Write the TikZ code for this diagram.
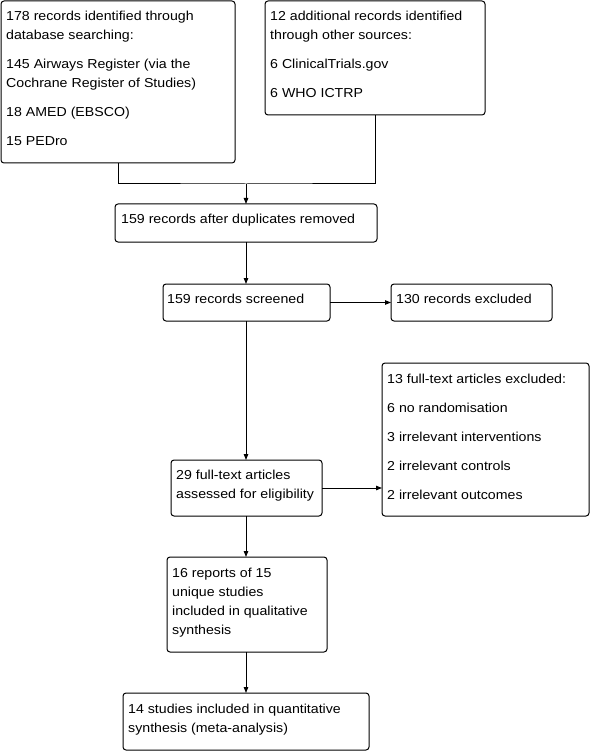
\documentclass[tikz,border=0pt]{standalone}
\usepackage{fontspec}
\setmainfont{Liberation Sans}[FakeStretch=1.09]
\usetikzlibrary{arrows.meta}
\begin{document}
\begin{tikzpicture}[x=1pt,y=-1pt,
  box/.style={draw=black, line width=1pt, rounded corners=3pt, anchor=north west, inner sep=0pt, outer sep=0pt},
  txt/.style={anchor=north west, inner sep=0pt, align=left, font=\fontsize{13}{19}\selectfont},
  arr/.style={line width=1pt, -{Triangle[length=6pt,width=4.5pt]}},
  conn/.style={line width=1pt}]
\useasboundingbox (0,0) rectangle (591,751);
\node[box, minimum width=234pt, minimum height=162pt] (b1) at (1,1) {};
\node[box, minimum width=220pt, minimum height=114pt] (b2) at (265,1) {};
\node[box, minimum width=262pt, minimum height=38pt] (b3) at (115,204) {};
\node[box, minimum width=167pt, minimum height=37pt] (b4) at (163,284) {};
\node[box, minimum width=161pt, minimum height=37pt] (b5) at (391,284) {};
\node[box, minimum width=207pt, minimum height=153pt] (b6) at (382,363) {};
\node[box, minimum width=151pt, minimum height=56pt] (b7) at (171,460) {};
\node[box, minimum width=160pt, minimum height=95pt] (b8) at (167,557) {};
\node[box, minimum width=246pt, minimum height=57pt] (b9) at (123,693) {};

\node[txt] (t1) at (6,10.5) {178 records identified through\\database searching:\\[10pt]145 Airways Register (via the\\Cochrane Register of Studies)\\[10pt]18 AMED (EBSCO)\\[10pt]15 PEDro};
\node[txt] (t2) at (270,10.5) {12 additional records identified\\through other sources:\\[10pt]6 ClinicalTrials.gov\\[10pt]6 WHO ICTRP};
\node[txt] (t3) at (121,213.5) {159 records after duplicates removed};
\node[txt] (t4) at (167,293.5) {159 records screened};
\node[txt] (t5) at (396,293.5) {130 records excluded};
\node[txt] (t6) at (387,373.5) {13 full-text articles excluded:\\[10pt]6 no randomisation\\[10pt]3 irrelevant interventions\\[10pt]2 irrelevant controls\\[10pt]2 irrelevant outcomes};
\node[txt] (t7) at (176,469.5) {29 full-text articles\\assessed for eligibility};
\node[txt] (t8) at (172,567.5) {16 reports of 15\\unique studies\\included in qualitative\\synthesis};
\node[txt] (t9) at (128,703.5) {14 studies included in quantitative\\synthesis (meta-analysis)};

\coordinate (j) at (246,184);
\draw[conn] (b1.south) |- (j) -| (b2.south);
\draw[arr] (j) -- (j |- b3.north);
\draw[arr] (j |- b3.south) -- (j |- b4.north);
\draw[arr] (j |- b4.south) -- (j |- b7.north);
\draw[arr] (j |- b7.south) -- (j |- b8.north);
\draw[arr] (j |- b8.south) -- (j |- b9.north);
\draw[arr] (b4.east) -- (b4.east -| b5.west);
\draw[arr] (b7.east) -- (b7.east -| b6.west);
\end{tikzpicture}
\end{document}
